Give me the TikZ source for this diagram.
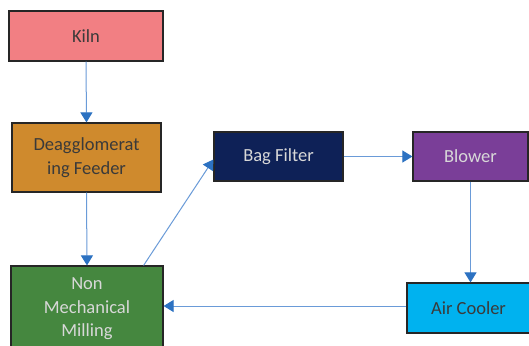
\documentclass[tikz,border=0pt]{standalone}
\usepackage{fontspec}
\setmainfont{Carlito}
\usetikzlibrary{arrows.meta}

\definecolor{kilnpink}{HTML}{F27F83}
\definecolor{feederorange}{HTML}{CF8A2D}
\definecolor{millgreen}{HTML}{45873F}
\definecolor{filternavy}{HTML}{0E2157}
\definecolor{blowerpurple}{HTML}{7A3E98}
\definecolor{coolercyan}{HTML}{00B2EF}
\definecolor{boxline}{HTML}{262626}
\definecolor{darktext}{HTML}{3A3A3A}
\definecolor{lighttext}{HTML}{D8D8D8}
\definecolor{flowline}{HTML}{6A9BD8}
\definecolor{tipblue}{HTML}{2C72C2}

\begin{document}
\begin{tikzpicture}[x=1pt,y=-1pt,
  box/.style={draw=boxline,line width=1.2pt,rectangle,align=center,
    font=\fontsize{18.5}{23.5}\selectfont},
  flow/.style={draw=flowline,line width=1pt,
    -{Triangle[width=12pt,length=10pt,color=tipblue]}}]

\useasboundingbox (0,0) rectangle (529,345);
\fill[white] (0,0) rectangle (529,345);

% process boxes
\node[box,fill=kilnpink,text=darktext,minimum width=154pt,minimum height=50pt] (kiln) at (86,36) {Kiln};
\node[box,fill=feederorange,text=darktext,minimum width=149pt,minimum height=69pt] (feeder) at (86.5,157.5) {Deagglomerat\\ing Feeder};
\node[box,fill=millgreen,text=lighttext,minimum width=152pt,minimum height=86pt] (mill) at (87,309) {Non\\Mechanical\\Milling};
\node[box,fill=filternavy,text=lighttext,minimum width=129pt,minimum height=49pt] (bag) at (278.5,156.5) {Bag Filter};
\node[box,fill=blowerpurple,text=lighttext,minimum width=115pt,minimum height=49pt] (blower) at (470.5,156.5) {Blower};
\node[box,fill=coolercyan,text=darktext,minimum width=123pt,minimum height=50pt] (cooler) at (468.5,308) {Air Cooler};

% flow arrows
\draw[flow] (kiln.south) -- (feeder.north);
\draw[flow] (feeder.south) -- (mill.north);
\draw[flow] ([xshift=-20pt]mill.north east) -- ([yshift=-3pt]bag.west);
\draw[flow] (bag.east) -- (blower.west);
\draw[flow] (blower.south) -- (blower.south |- cooler.north);
\draw[flow] ([yshift=2pt]cooler.west) -- ([yshift=2pt]cooler.west -| mill.east);

\end{tikzpicture}
\end{document}
